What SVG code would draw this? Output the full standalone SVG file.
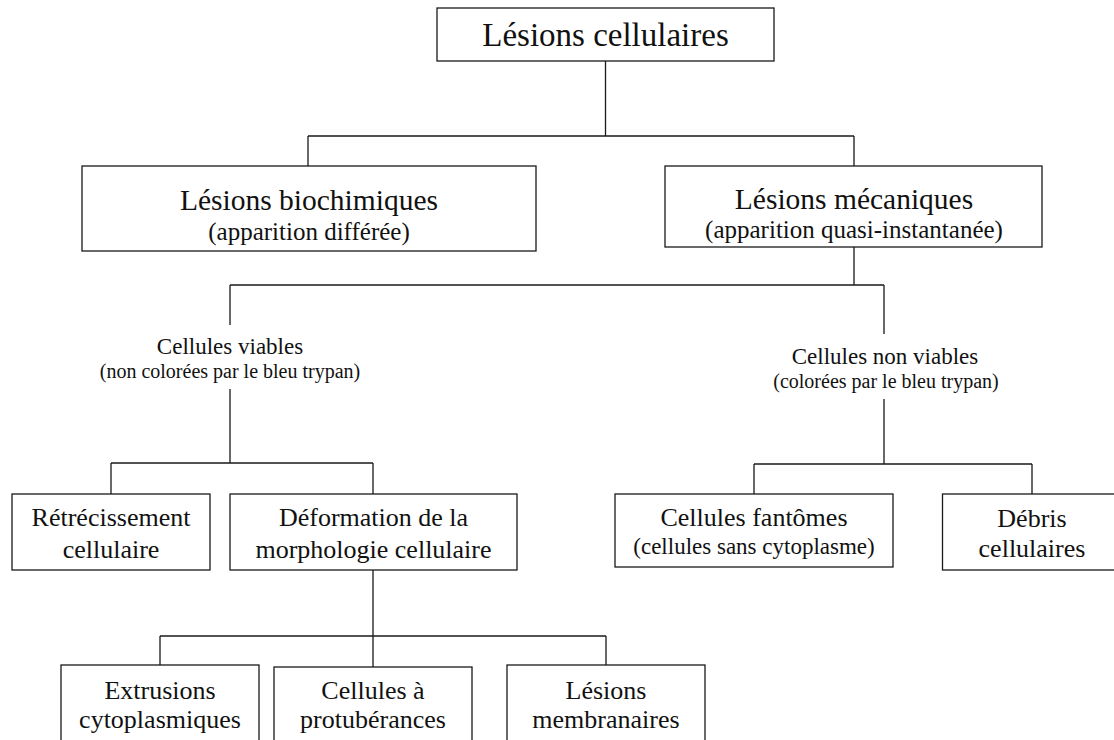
<svg xmlns="http://www.w3.org/2000/svg" width="1114" height="740" viewBox="0 0 1114 740">
<style>
.box{fill:#fff;stroke:#1a1a1a;stroke-width:1.3}
.ln{fill:none;stroke:#1a1a1a;stroke-width:1.3}
text{font-family:"Liberation Serif","Times New Roman",serif;fill:#111;text-anchor:middle}
.t0{font-size:33px}
.t1{font-size:29.5px}
.s1{font-size:25px}
.t2{font-size:23px}
.s2{font-size:20px}
.t3{font-size:26px}
.s3{font-size:23px}
</style>
<rect width="1114" height="740" fill="#fff"/>
<g id="connectors">
<path class="ln" d="M605.5 61V136M308 136H854M308 136V166M854 136V166"/>
<path class="ln" d="M854 247V285M230 285H884M230 285V325M884 285V334"/>
<path class="ln" d="M230 389V463M111 463H373M111 463V494M373 463V494"/>
<path class="ln" d="M884 399V464M754 464H1032M754 464V494M1032 464V494"/>
<path class="ln" d="M373 570V636M160 636H606M160 636V665M373 636V667M606 636V665"/>
</g>
<g id="n-lesions-cellulaires">
<rect class="box" x="437" y="8" width="337" height="53"/>
<text class="t0" x="605.5" y="46">Lésions cellulaires</text>
</g>
<g id="n-biochimiques">
<rect class="box" x="82" y="166" width="454" height="85"/>
<text class="t1" x="309" y="210">Lésions biochimiques</text>
<text class="s1" x="309" y="239.5">(apparition différée)</text>
</g>
<g id="n-mecaniques">
<rect class="box" x="665" y="166" width="377" height="81"/>
<text class="t1" x="854" y="208.5">Lésions mécaniques</text>
<text class="s1" x="854" y="237.5">(apparition quasi-instantanée)</text>
</g>
<g id="n-viables">
<text class="t2" x="230" y="353.5">Cellules viables</text>
<text class="s2" x="230" y="377.5">(non colorées par le bleu trypan)</text>
</g>
<g id="n-non-viables">
<text class="t2" x="885" y="363.5">Cellules non viables</text>
<text class="s2" x="886" y="387.5">(colorées par le bleu trypan)</text>
</g>
<g id="n-retrecissement">
<rect class="box" x="12" y="494" width="198" height="76"/>
<text class="t3" x="111" y="526">Rétrécissement</text>
<text class="t3" x="111" y="558">cellulaire</text>
</g>
<g id="n-deformation">
<rect class="box" x="230" y="494" width="287" height="76"/>
<text class="t3" x="373.5" y="526">Déformation de la</text>
<text class="t3" x="373.5" y="558">morphologie cellulaire</text>
</g>
<g id="n-fantomes">
<rect class="box" x="615" y="494" width="278" height="73"/>
<text class="t3" x="754" y="526">Cellules fantômes</text>
<text class="s3" x="754" y="553.5">(cellules sans cytoplasme)</text>
</g>
<g id="n-debris">
<rect class="box" x="942.5" y="494" width="190" height="76"/>
<text class="t3" x="1032" y="526.5">Débris</text>
<text class="t3" x="1032" y="557">cellulaires</text>
</g>
<g id="n-extrusions">
<rect class="box" x="61" y="665" width="198" height="100"/>
<text class="t3" x="160" y="699">Extrusions</text>
<text class="t3" x="160" y="728">cytoplasmiques</text>
</g>
<g id="n-protuberances">
<rect class="box" x="274" y="667" width="198" height="100"/>
<text class="t3" x="373" y="699">Cellules à</text>
<text class="t3" x="373" y="728">protubérances</text>
</g>
<g id="n-membranaires">
<rect class="box" x="507" y="665" width="198" height="100"/>
<text class="t3" x="606" y="699">Lésions</text>
<text class="t3" x="606" y="728">membranaires</text>
</g>
</svg>
